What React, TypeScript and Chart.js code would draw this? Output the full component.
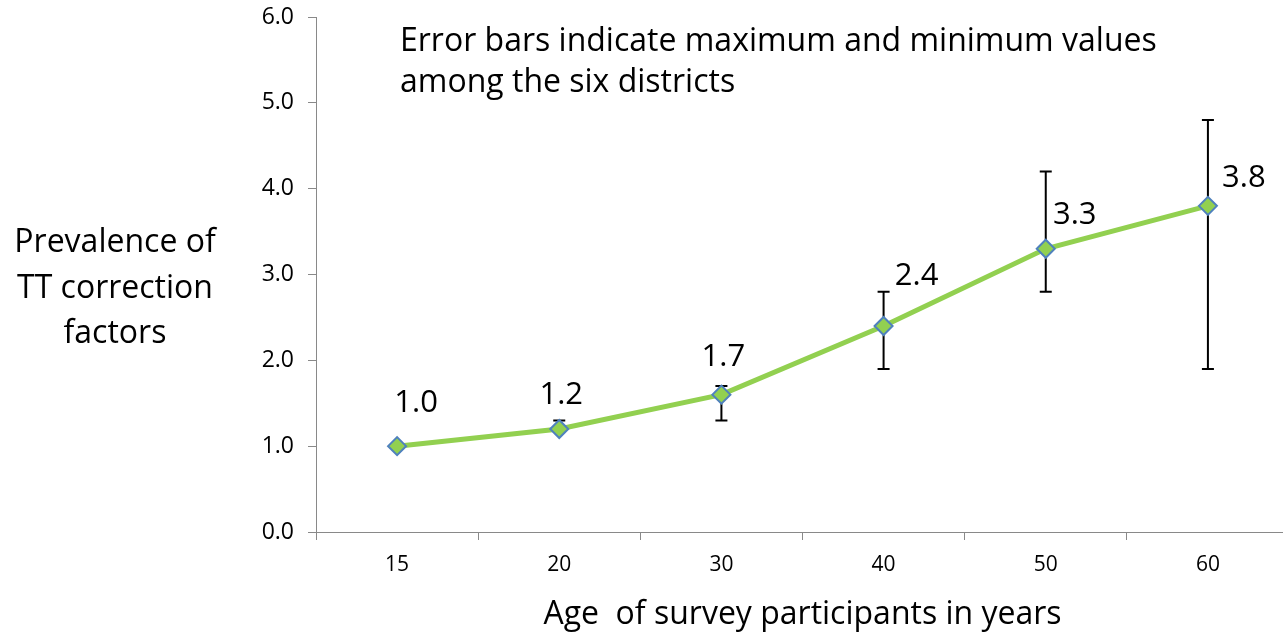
import React, { useEffect, useRef } from "react";
import { Chart, registerables } from "chart.js";

Chart.register(...registerables);

const ageGroups = ["15", "20", "30", "40", "50", "60"];
const prevalence = [1.0, 1.2, 1.6, 2.4, 3.3, 3.8];
const valueLabels = ["1.0", "1.2", "1.7", "2.4", "3.3", "3.8"];
const maxValues: (number | null)[] = [null, 1.3, 1.7, 2.8, 4.2, 4.8];
const minValues: (number | null)[] = [null, 1.2, 1.3, 1.9, 2.8, 1.9];
const yTicks = [0, 1, 2, 3, 4, 5, 6];

const yTitleLines = ["Prevalence of", "TT correction", "factors"];
const noteLines = [
  "Error bars indicate maximum and minimum values",
  "among the six districts",
];
const xTitle = "Age  of survey participants in years";

// label placement (pixel offsets from each marker), style only
const labelOffsets = [
  [19, -43],
  [2, -34],
  [2, -37],
  [33, -50],
  [29, -34],
  [36, -28],
];

const FONT = "'Open Sans', 'Noto Sans', sans-serif";

const overlayPlugin = {
  id: "overlay",
  beforeDatasetsDraw(chart: any) {
    const ctx = chart.ctx;
    const xs = chart.scales.x;
    const ys = chart.scales.y;
    ctx.save();
    ctx.strokeStyle = "#000";
    ctx.lineWidth = 2;
    ageGroups.forEach((_, i) => {
      const hi = maxValues[i];
      const lo = minValues[i];
      if (hi == null || lo == null) return;
      const x = xs.getPixelForValue(i);
      const yH = ys.getPixelForValue(hi);
      const yL = ys.getPixelForValue(lo);
      ctx.beginPath();
      ctx.moveTo(x, yH);
      ctx.lineTo(x, yL);
      ctx.moveTo(x - 6, yH);
      ctx.lineTo(x + 6, yH);
      ctx.moveTo(x - 6, yL);
      ctx.lineTo(x + 6, yL);
      ctx.stroke();
    });
    ctx.restore();
  },
  afterDatasetsDraw(chart: any) {
    const ctx = chart.ctx;
    const meta = chart.getDatasetMeta(0);
    ctx.save();
    ctx.fillStyle = "#000";
    ctx.font = `31px ${FONT}`;
    ctx.textAlign = "center";
    ctx.textBaseline = "middle";
    meta.data.forEach((pt: any, i: number) => {
      const [dx, dy] = labelOffsets[i];
      ctx.fillText(valueLabels[i], pt.x + dx, pt.y + dy);
    });
    ctx.restore();
  },
  afterDraw(chart: any) {
    const ctx = chart.ctx;
    ctx.save();
    ctx.fillStyle = "#000";
    ctx.font = `32px ${FONT}`;
    ctx.textBaseline = "middle";
    ctx.textAlign = "center";
    yTitleLines.forEach((t, i) => ctx.fillText(t, 115, 243 + i * 45.5));
    ctx.textAlign = "left";
    noteLines.forEach((t, i) => ctx.fillText(t, 400, 42 + i * 41));
    ctx.restore();
  },
};

export default function App() {
  const ref = useRef<HTMLCanvasElement | null>(null);
  useEffect(() => {
    if (!ref.current) return;
    const chart = new Chart(ref.current, {
      type: "line",
      data: {
        labels: ageGroups,
        datasets: [
          {
            data: prevalence,
            borderColor: "#92D050",
            borderWidth: 5,
            pointStyle: "rectRot",
            pointRadius: 9,
            pointBackgroundColor: "#92D050",
            pointBorderColor: "#4F81BD",
            pointBorderWidth: 2,
            tension: 0,
            clip: false as any,
          },
        ],
      },
      options: {
        animation: false,
        responsive: false,
        devicePixelRatio: 1,
        layout: { padding: { left: 0, right: 0, top: 17, bottom: 0 } },
        plugins: {
          legend: { display: false },
          tooltip: { enabled: false },
        },
        scales: {
          x: {
            type: "category",
            offset: true,
            afterFit: (s: any) => {
              s.height = 102;
            },
            border: { color: "#898989", width: 1 },
            grid: {
              display: true,
              drawOnChartArea: false,
              drawTicks: true,
              tickLength: 8,
              color: "#898989",
              offset: true,
            },
            ticks: {
              color: "#000",
              padding: 12,
              font: { family: FONT, size: 21 },
            },
            title: {
              display: true,
              text: xTitle,
              color: "#000",
              font: { family: FONT, size: 32 },
              padding: { top: 2, bottom: 0 },
            },
          },
          y: {
            min: 0,
            max: 6,
            afterFit: (s: any) => {
              s.width = 316;
              s.paddingTop = 0;
              s.paddingBottom = 0;
            },
            afterBuildTicks: (s: any) => {
              s.ticks = yTicks.map((v) => ({ value: v }));
            },
            border: { color: "#898989", width: 1 },
            grid: {
              display: true,
              drawOnChartArea: false,
              drawTicks: true,
              tickLength: 8,
              color: "#898989",
            },
            ticks: {
              color: "#000",
              padding: 14,
              font: { family: FONT, size: 23 },
              callback: (v: any) => Number(v).toFixed(1),
            },
          },
        },
      },
      plugins: [overlayPlugin],
    });
    return () => chart.destroy();
  }, []);
  return (
    <div
      style={{
        position: "absolute",
        left: 0,
        top: 0,
        width: 1283,
        height: 634,
        overflow: "hidden",
        background: "#fff",
      }}
    >
      <canvas ref={ref} width={1300} height={634} style={{ display: "block" }} />
    </div>
  );
}
